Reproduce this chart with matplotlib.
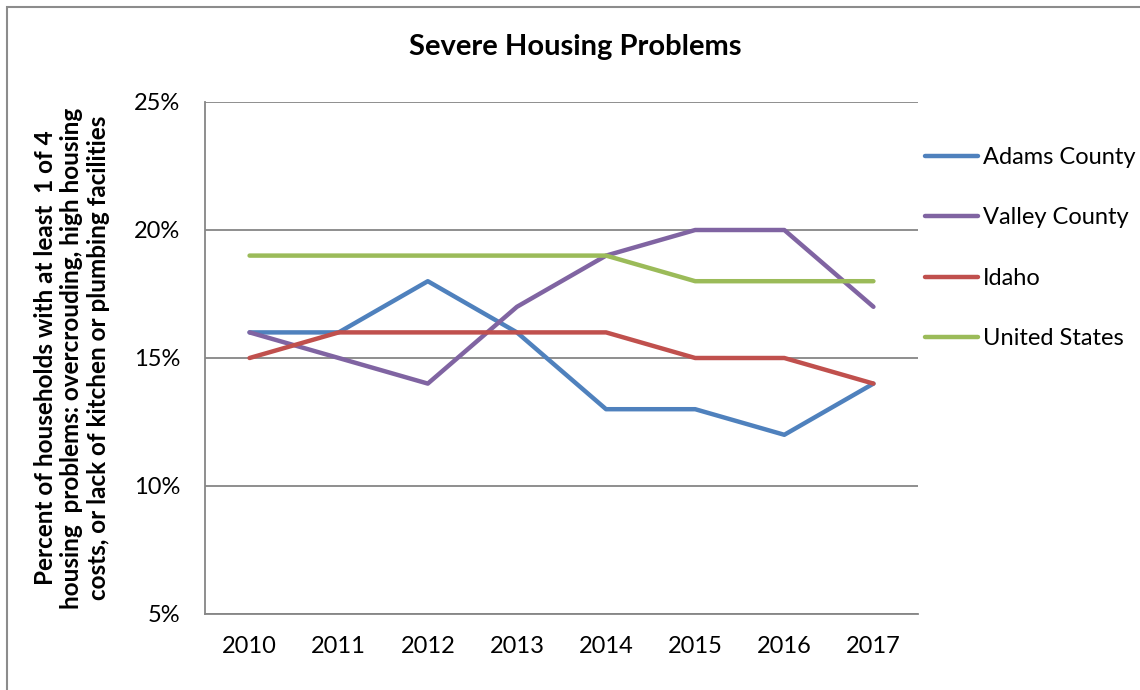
import matplotlib
matplotlib.use("Agg")
import matplotlib.pyplot as plt
from matplotlib.patches import Rectangle
from matplotlib.ticker import FuncFormatter

years = ["2010", "2011", "2012", "2013", "2014", "2015", "2016", "2017"]
adams_county = [16, 16, 18, 16, 13, 13, 12, 14]
valley_county = [16, 15, 14, 17, 19, 20, 20, 17]
idaho = [15, 16, 16, 16, 16, 15, 15, 14]
united_states = [19, 19, 19, 19, 19, 18, 18, 18]

series = [
    ("Adams County", adams_county, "#4F81BD"),
    ("Valley County", valley_county, "#8064A2"),
    ("Idaho", idaho, "#C0504D"),
    ("United States", united_states, "#9BBB59"),
]

plt.rcParams["font.family"] = ["Lato", "DejaVu Sans"]

W, H = 1140, 690
fig = plt.figure(figsize=(W / 100, H / 100), dpi=100)
ax = fig.add_axes([205 / W, 1 - 614 / H, (918 - 205) / W, (614 - 102) / H])

x = list(range(len(years)))
for name, vals, color in series:
    ax.plot(x, vals, color=color, lw=3.2, label=name, solid_capstyle="round",
            solid_joinstyle="round")

ax.set_xlim(-0.5, len(years) - 0.5)
ax.set_ylim(5, 25)
ax.set_xticks(x)
ax.set_xticklabels(years)
ax.set_yticks([5, 10, 15, 20, 25])
ax.yaxis.set_major_formatter(FuncFormatter(lambda v, p: f"{v:.0f}%"))
ax.tick_params(axis="both", length=0, labelsize=17, colors="black")
ax.tick_params(axis="x", pad=16)
ax.tick_params(axis="y", pad=18)

grid_color = "#868686"
ax.grid(axis="y", color=grid_color, lw=1.3)
ax.set_axisbelow(True)
for side in ("top", "right"):
    ax.spines[side].set_visible(False)
for side in ("left", "bottom"):
    ax.spines[side].set_color(grid_color)
    ax.spines[side].set_linewidth(1.3)

fig.text(72 / W, 1 - 358 / H,
         "Percent of households with at least  1 of 4\nhousing  problems: overcrouding, high housing\ncosts, or lack of kitchen or plumbing facilities",
         rotation=90, ha="center", va="center", multialignment="center",
         fontsize=17.5, fontweight="bold", linespacing=1.2)

fig.text(575 / W, 1 - 47 / H, "Severe Housing Problems", ha="center", va="center",
         fontsize=21, fontweight="bold")

leg = ax.legend(loc="upper left", bbox_to_anchor=(925 / W, 1 - 147 / H),
                bbox_transform=fig.transFigure, frameon=False, fontsize=17,
                handlelength=2.25, handletextpad=0.2, labelspacing=1.67,
                borderaxespad=0, borderpad=0)

# chart frame
fig.patches.append(Rectangle((7 / W, -0.1), 1.2, (1 - 7 / H) + 0.1,
                             transform=fig.transFigure, fill=False,
                             edgecolor="#8C8C8C", lw=1.5, clip_on=False))

fig.savefig("out.png", dpi=100)
